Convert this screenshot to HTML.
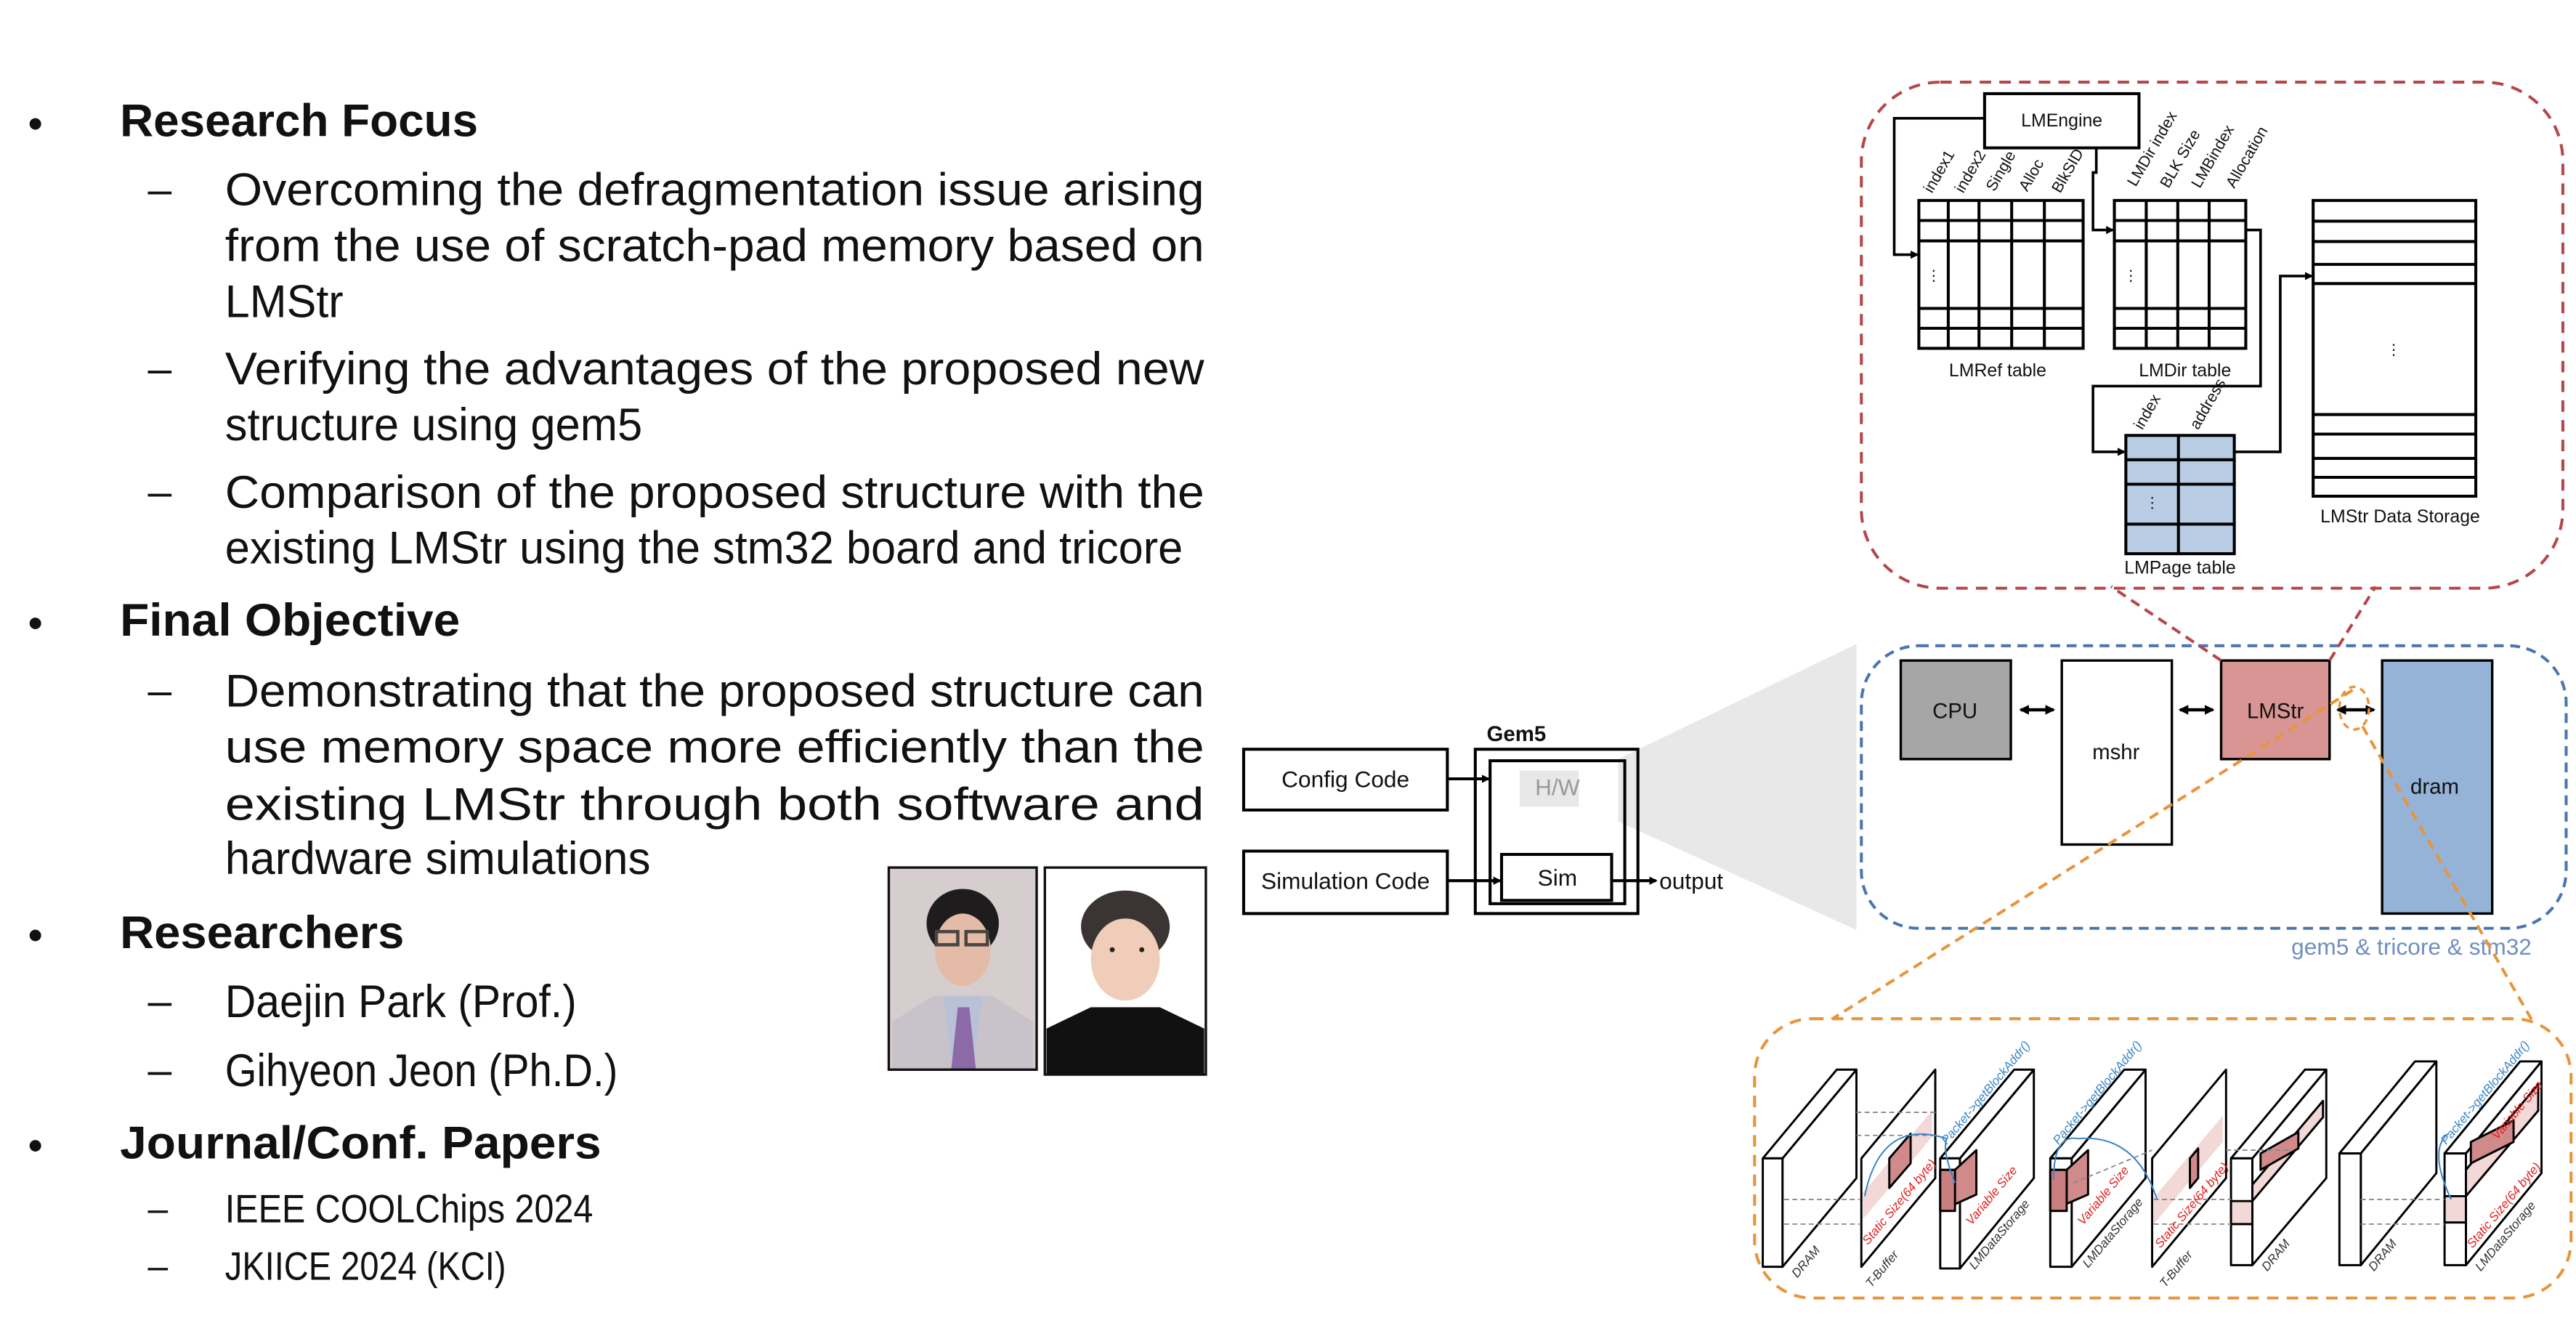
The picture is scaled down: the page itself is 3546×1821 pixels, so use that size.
<!DOCTYPE html>
<html><head><meta charset="utf-8"><style>
html,body{margin:0;padding:0;background:#fff;}
svg{display:block;}
.t{font-family:"Liberation Sans Narrow","Liberation Sans",sans-serif;fill:#111;}
.s{font-family:"Liberation Sans Narrow","Liberation Sans",sans-serif;}
</style></head><body>
<svg width="3546" height="1821" viewBox="0 0 1568 805.2" preserveAspectRatio="none" xmlns="http://www.w3.org/2000/svg">
<defs>
<marker id="ah" markerWidth="6" markerHeight="6" refX="5" refY="3" orient="auto" markerUnits="userSpaceOnUse"><path d="M0,0 L6,3 L0,6 z" fill="#000"/></marker>
<marker id="ah2" markerWidth="5" markerHeight="5" refX="4" refY="2.5" orient="auto" markerUnits="userSpaceOnUse"><path d="M0,0 L5,2.5 L0,5 z" fill="#000"/></marker>
<marker id="as" markerWidth="6" markerHeight="6" refX="1" refY="3" orient="auto" markerUnits="userSpaceOnUse"><path d="M6,0 L0,3 L6,6 z" fill="#000"/></marker>
</defs>
<rect width="1568" height="806" fill="#fff"/>

<!-- LEFT TEXT -->
<g class="t">
<text x="17" y="84" font-size="26">•</text>
<text x="73" y="83" font-size="28" font-weight="bold" textLength="218" lengthAdjust="spacingAndGlyphs">Research Focus</text>
<text x="90" y="124" font-size="26">–</text>
<text x="137" y="125" font-size="28" textLength="596" lengthAdjust="spacingAndGlyphs">Overcoming  the  defragmentation  issue  arising</text>
<text x="137" y="159" font-size="28" textLength="596" lengthAdjust="spacingAndGlyphs">from  the  use  of  scratch-pad  memory  based  on</text>
<text x="137" y="193" font-size="28" textLength="72" lengthAdjust="spacingAndGlyphs">LMStr</text>
<text x="90" y="233" font-size="26">–</text>
<text x="137" y="234" font-size="28" textLength="596" lengthAdjust="spacingAndGlyphs">Verifying  the  advantages  of  the  proposed  new</text>
<text x="137" y="268" font-size="28" textLength="254" lengthAdjust="spacingAndGlyphs">structure using gem5</text>
<text x="90" y="308" font-size="26">–</text>
<text x="137" y="309" font-size="28" textLength="596" lengthAdjust="spacingAndGlyphs">Comparison  of  the  proposed  structure  with  the</text>
<text x="137" y="343" font-size="28" textLength="583" lengthAdjust="spacingAndGlyphs">existing LMStr using the stm32 board and tricore</text>
<text x="17" y="388" font-size="26">•</text>
<text x="73" y="387" font-size="28" font-weight="bold" textLength="207" lengthAdjust="spacingAndGlyphs">Final Objective</text>
<text x="90" y="429" font-size="26">–</text>
<text x="137" y="430" font-size="28" textLength="596" lengthAdjust="spacingAndGlyphs">Demonstrating  that  the  proposed  structure  can</text>
<text x="137" y="464" font-size="28" textLength="596" lengthAdjust="spacingAndGlyphs">use  memory  space  more  efficiently  than  the</text>
<text x="137" y="499" font-size="28" textLength="596" lengthAdjust="spacingAndGlyphs">existing   LMStr   through   both   software   and</text>
<text x="137" y="532" font-size="28" textLength="259" lengthAdjust="spacingAndGlyphs">hardware simulations</text>
<text x="17" y="578" font-size="26">•</text>
<text x="73" y="577" font-size="28" font-weight="bold" textLength="173" lengthAdjust="spacingAndGlyphs">Researchers</text>
<text x="90" y="618" font-size="26">–</text>
<text x="137" y="619" font-size="28" textLength="214" lengthAdjust="spacingAndGlyphs">Daejin Park (Prof.)</text>
<text x="90" y="660" font-size="26">–</text>
<text x="137" y="661" font-size="28" textLength="239" lengthAdjust="spacingAndGlyphs">Gihyeon Jeon (Ph.D.)</text>
<text x="17" y="706" font-size="26">•</text>
<text x="73" y="705" font-size="28" font-weight="bold" textLength="293" lengthAdjust="spacingAndGlyphs">Journal/Conf. Papers</text>
<text x="90" y="743" font-size="22">–</text>
<text x="137" y="744" font-size="24" textLength="224" lengthAdjust="spacingAndGlyphs">IEEE COOLChips 2024</text>
<text x="90" y="778" font-size="22">–</text>
<text x="137" y="779" font-size="24" textLength="171" lengthAdjust="spacingAndGlyphs">JKIICE 2024 (KCI)</text>
</g>

<!-- PHOTOS -->
<g>
<rect x="541" y="528" width="90" height="123" fill="#d6cdce"/>
<ellipse cx="586" cy="562" rx="22" ry="21" fill="#1e1c1c"/>
<ellipse cx="586" cy="578" rx="17" ry="22" fill="#e3bba6"/>
<rect x="570" y="567" width="13" height="8" fill="none" stroke="#4a4442" stroke-width="2"/>
<rect x="588" y="567" width="13" height="8" fill="none" stroke="#4a4442" stroke-width="2"/>
<path d="M543,651 L543,622 L568,606 L604,606 L629,622 L629,651 Z" fill="#c8c3cb"/>
<path d="M574,606 L598,606 L592,651 L580,651 Z" fill="#b8c1d6"/>
<path d="M583,613 L590,613 L594,651 L579,651 Z" fill="#8b6aa7"/>
<rect x="541" y="528" width="90" height="123" fill="none" stroke="#111" stroke-width="1.5"/>
<rect x="636" y="528" width="98" height="126" fill="#fff"/>
<ellipse cx="685" cy="564" rx="27" ry="22" fill="#3a3533"/>
<ellipse cx="685" cy="584" rx="21" ry="25" fill="#efcdb9"/>
<circle cx="677" cy="578" r="1.5" fill="#222"/><circle cx="695" cy="578" r="1.5" fill="#222"/>
<path d="M637,654 L637,626 L664,613 L706,613 L733,626 L733,654 Z" fill="#111"/>
<rect x="636" y="528" width="98" height="126" fill="none" stroke="#111" stroke-width="1.5"/>
</g>

<!-- GRAY TRAPEZOID -->
<polygon points="985,462 1130,392 1130,566 985,500" fill="#e8e8e8"/>

<!-- GEM5 -->
<g class="s" font-size="14" text-anchor="middle" fill="#111">
<text x="923" y="451" font-weight="bold" font-size="13">Gem5</text>
<rect x="757" y="456" width="124" height="37" fill="#fff" stroke="#000" stroke-width="1.8"/>
<text x="819" y="479">Config Code</text>
<rect x="757" y="518" width="124" height="38" fill="#fff" stroke="#000" stroke-width="1.8"/>
<text x="819" y="541">Simulation Code</text>
<rect x="898" y="456" width="99" height="100" fill="none" stroke="#000" stroke-width="1.8"/>
<rect x="907" y="463" width="82" height="87" fill="none" stroke="#000" stroke-width="1.8"/>
<rect x="925" y="469" width="36" height="22" fill="#e8e8e8"/>
<text x="948" y="484" fill="#999">H/W</text>
<rect x="914" y="520" width="67" height="28" fill="#fff" stroke="#000" stroke-width="1.8"/>
<text x="948" y="539">Sim</text>
<line x1="881" y1="474" x2="906" y2="474" stroke="#000" stroke-width="1.8" marker-end="url(#ah2)"/>
<line x1="881" y1="536" x2="913" y2="536" stroke="#000" stroke-width="1.8" marker-end="url(#ah2)"/>
<line x1="981" y1="536" x2="1008" y2="536" stroke="#000" stroke-width="1.8" marker-end="url(#ah2)"/>
<text x="1010" y="541" text-anchor="start">output</text>
</g>

<!-- BLUE BOX -->
<rect x="1133" y="393" width="429" height="172" rx="35" fill="none" stroke="#4a76b0" stroke-width="1.8" stroke-dasharray="6,4"/>
<text x="1541" y="581" class="s" font-size="14" text-anchor="end" fill="#6f8fc0">gem5 &amp; tricore &amp; stm32</text>
<g class="s" font-size="13" text-anchor="middle" fill="#111">
<rect x="1157" y="402" width="67" height="60" fill="#a6a6a6" stroke="#000" stroke-width="1.5"/>
<text x="1190" y="437">CPU</text>
<rect x="1255" y="402" width="67" height="112" fill="#fff" stroke="#000" stroke-width="1.5"/>
<text x="1288" y="462">mshr</text>
<rect x="1352" y="402" width="66" height="60" fill="#d99594" stroke="#000" stroke-width="1.5"/>
<text x="1385" y="437">LMStr</text>
<rect x="1450" y="402" width="67" height="154" fill="#95b3d7" stroke="#000" stroke-width="1.5"/>
<text x="1482" y="483">dram</text>
</g>
<g stroke="#000" stroke-width="2">
<line x1="1230" y1="432" x2="1250" y2="432" marker-start="url(#as)" marker-end="url(#ah)"/>
<line x1="1327" y1="432" x2="1347" y2="432" marker-start="url(#as)" marker-end="url(#ah)"/>
<line x1="1423" y1="432" x2="1445" y2="432" marker-start="url(#as)" marker-end="url(#ah)"/>
</g>

<!-- RED DASHED connectors + box -->
<line x1="1352" y1="402" x2="1285" y2="357" stroke="#b5474b" stroke-width="1.8" stroke-dasharray="6,4"/>
<line x1="1418" y1="402" x2="1446" y2="357" stroke="#b5474b" stroke-width="1.8" stroke-dasharray="6,4"/>
<rect x="1133" y="50" width="427" height="308" rx="48" fill="none" stroke="#b5474b" stroke-width="1.8" stroke-dasharray="7,5"/>

<!-- ORANGE -->
<ellipse cx="1433" cy="431" rx="9" ry="13" fill="none" stroke="#e8943a" stroke-width="1.5" stroke-dasharray="4,3"/>
<line x1="1432" y1="420" x2="1068" y2="650" stroke="#e8943a" stroke-width="1.8" stroke-dasharray="6,4"/>
<line x1="1438" y1="442" x2="1558" y2="650" stroke="#e8943a" stroke-width="1.8" stroke-dasharray="6,4"/>
<rect x="1068" y="620" width="497" height="170" rx="35" fill="#fff" stroke="#e8943a" stroke-width="1.8" stroke-dasharray="7,5"/>

<!-- LM diagram -->
<g class="s" fill="#111">
<rect x="1208" y="57" width="94" height="33" fill="#fff" stroke="#000" stroke-width="1.8"/>
<text x="1255" y="77" font-size="11" text-anchor="middle">LMEngine</text>
<g fill="none" stroke="#000" stroke-width="1.6">
<polyline points="1208,72 1153,72 1153,155 1167,155" marker-end="url(#ah2)"/>
<polyline points="1276,90 1276,105 1274,105 1274,140 1286,140" marker-end="url(#ah2)"/>
<polyline points="1367,140 1376,140 1376,235 1274,235 1274,275 1293,275" marker-end="url(#ah2)"/>
<polyline points="1360,275 1388,275 1388,168 1407,168" marker-end="url(#ah2)"/>
</g>
<!-- LMRef -->
<g fill="none" stroke="#000" stroke-width="1.8">
<rect x="1168" y="122" width="100" height="90" fill="#fff"/>
<path d="M1168,134.2H1268M1168,146.6H1268M1168,187.7H1268M1168,199.8H1268M1185.9,122V212M1204.6,122V212M1224.5,122V212M1244.4,122V212"/>
<rect x="1287" y="122" width="80" height="90" fill="#fff"/>
<path d="M1287,134.2H1367M1287,146.6H1367M1287,187.7H1367M1287,199.8H1367M1306.4,122V212M1325.6,122V212M1344.7,122V212"/>
<rect x="1408" y="122" width="99" height="180" fill="#fff"/>
<path d="M1408,134.6H1507M1408,147H1507M1408,160.9H1507M1408,172.6H1507M1408,252.3H1507M1408,264.2H1507M1408,279H1507M1408,290.5H1507"/>
<rect x="1294" y="265" width="66" height="72" fill="#b8cce4"/>
<path d="M1294,279.8H1360M1294,294.7H1360M1294,319H1360M1326,265V337"/>
</g>
<text x="1177" y="171" font-size="9" text-anchor="middle">⋮</text>
<text x="1297" y="171" font-size="9" text-anchor="middle">⋮</text>
<text x="1457" y="216" font-size="9" text-anchor="middle">⋮</text>
<text x="1310" y="309" font-size="9" text-anchor="middle">⋮</text>
<g font-size="11" text-anchor="middle">
<text x="1216" y="229">LMRef table</text>
<text x="1330" y="229">LMDir table</text>
<text x="1327" y="349">LMPage table</text>
<text x="1461" y="318">LMStr Data Storage</text>
</g>
<g font-size="9.5">
<text transform="translate(1176,118) rotate(-60)">index1</text>
<text transform="translate(1195,118) rotate(-60)">index2</text>
<text transform="translate(1214,117) rotate(-60)">Single</text>
<text transform="translate(1234,117) rotate(-60)">Alloc</text>
<text transform="translate(1254,118) rotate(-60)">BlkSID</text>
<text transform="translate(1300,114) rotate(-60)">LMDir index</text>
<text transform="translate(1320,115) rotate(-60)">BLK Size</text>
<text transform="translate(1339,115) rotate(-60)">LMBindex</text>
<text transform="translate(1360,115) rotate(-60)">Allocation</text>
<text transform="translate(1304,262) rotate(-60)">index</text>
<text transform="translate(1338,262) rotate(-60)">address</text>
</g>
</g>

<!-- 3D SLABS -->
<g stroke="#000" stroke-width="1.3" fill="#fff" stroke-linejoin="round">
<!-- slab1 DRAM -->
<polygon points="1085,705 1130,651 1130,717 1085,771"/>
<polygon points="1073,705 1085,705 1130,651 1118,651"/>
<rect x="1073" y="705" width="12" height="66"/>
<!-- T-Buffer plane -->
<polygon points="1133,705 1178,651 1178,717 1133,771"/>
<polygon points="1134,742 1176,692 1176,676 1134,726" fill="#f2d9d8" stroke="none"/>
<polygon points="1150,705 1163,690 1163,708 1150,723" fill="#d08a8a"/>
<!-- slab3 LMDataStorage -->
<polygon points="1193,705 1238,651 1238,717 1193,772"/>
<polygon points="1181,705 1193,705 1238,651 1226,651"/>
<rect x="1181" y="705" width="12" height="67"/>
<polygon points="1181,712 1190,712 1203,700 1203,727 1181,737" fill="#d08a8a"/>
<rect x="1181" y="712" width="9" height="25" fill="#c97f7f"/>
<!-- slab4 -->
<polygon points="1261,705 1306,651 1306,717 1261,771"/>
<polygon points="1248,705 1261,705 1306,651 1293,651"/>
<rect x="1248" y="705" width="13" height="66"/>
<polygon points="1248,712 1258,712 1271,700 1271,727 1248,737" fill="#d08a8a"/>
<rect x="1248" y="712" width="10" height="25" fill="#c97f7f"/>
<!-- T-Buffer plane 2 -->
<polygon points="1310,705 1355,651 1355,717 1310,771"/>
<polygon points="1311,745 1353,695 1353,679 1311,729" fill="#f2d9d8" stroke="none"/>
<polygon points="1333,705 1338,699 1338,717 1333,723" fill="#d08a8a"/>
<!-- slab6 DRAM -->
<polygon points="1371,705 1416,651 1416,717 1371,770"/>
<polygon points="1358,705 1371,705 1416,651 1403,651"/>
<rect x="1358" y="705" width="13" height="65"/>
<polygon points="1371,731 1414,680 1414,670 1371,721" fill="#f2d9d8"/>
<polygon points="1376,712 1399,699 1399,689 1376,702" fill="#d08a8a"/>
<rect x="1358" y="731" width="13" height="14" fill="#f2d9d8"/>
<!-- slab7 DRAM -->
<polygon points="1437,702 1483,646 1483,714 1437,770"/>
<polygon points="1424,702 1437,702 1483,646 1470,646"/>
<rect x="1424" y="702" width="13" height="68"/>
<!-- slab8 LMDataStorage -->
<polygon points="1501,702 1547,646 1547,714 1501,770"/>
<polygon points="1488,702 1501,702 1547,646 1534,646"/>
<rect x="1488" y="702" width="13" height="68"/>
<polygon points="1501,728 1545,676 1545,660 1501,712" fill="#f2d9d8"/>
<polygon points="1504,708 1530,695 1530,682 1504,695" fill="#d08a8a"/>
<rect x="1488" y="728" width="13" height="16" fill="#f2d9d8"/>
</g>
<g stroke="#888" stroke-width="0.8" stroke-dasharray="3,2" fill="none">
<line x1="1086" y1="730" x2="1132" y2="730"/><line x1="1086" y1="745" x2="1132" y2="745"/>
<line x1="1130" y1="677" x2="1178" y2="677"/><line x1="1130" y1="691" x2="1178" y2="691"/>
<line x1="1262" y1="720" x2="1310" y2="700"/><line x1="1311" y1="730" x2="1358" y2="730"/>
<line x1="1311" y1="745" x2="1358" y2="745"/><line x1="1437" y1="730" x2="1488" y2="730"/>
<line x1="1437" y1="745" x2="1488" y2="745"/><line x1="1355" y1="700" x2="1395" y2="700"/>
</g>
<g stroke="#3a86c8" stroke-width="0.9" fill="none">
<path d="M1135,728 Q1145,680 1185,693 Q1182,700 1190,720"/>
<path d="M1250,718 Q1250,690 1265,693 Q1300,690 1313,730"/>
<path d="M1492,730 Q1478,700 1490,690"/>
</g>
<g class="s" font-size="7.5" font-style="italic">
<text transform="translate(1094,778) rotate(-50)" fill="#333">DRAM</text>
<text transform="translate(1139,784) rotate(-50)" fill="#333">T-Buffer</text>
<text transform="translate(1137,758) rotate(-50)" fill="#e02020">Static Size(64 byte)</text>
<text transform="translate(1200,746) rotate(-50)" fill="#e02020">Variable Size</text>
<text transform="translate(1185,697) rotate(-50)" fill="#3a86c8">Packet-&gt;getBlockAddr()</text>
<text transform="translate(1202,773) rotate(-50)" fill="#333">LMDataStorage</text>
<text transform="translate(1253,697) rotate(-50)" fill="#3a86c8">Packet-&gt;getBlockAddr()</text>
<text transform="translate(1268,746) rotate(-50)" fill="#e02020">Variable Size</text>
<text transform="translate(1271,772) rotate(-50)" fill="#333">LMDataStorage</text>
<text transform="translate(1315,760) rotate(-50)" fill="#e02020">Static Size(64 byte)</text>
<text transform="translate(1318,784) rotate(-50)" fill="#333">T-Buffer</text>
<text transform="translate(1380,774) rotate(-50)" fill="#333">DRAM</text>
<text transform="translate(1445,774) rotate(-50)" fill="#333">DRAM</text>
<text transform="translate(1489,697) rotate(-50)" fill="#3a86c8">Packet-&gt;getBlockAddr()</text>
<text transform="translate(1520,694) rotate(-50)" fill="#e02020">Variable Size</text>
<text transform="translate(1505,760) rotate(-50)" fill="#e02020">Static Size(64 byte)</text>
<text transform="translate(1510,774) rotate(-50)" fill="#333">LMDataStorage</text>
</g>
</svg>
</body></html>
